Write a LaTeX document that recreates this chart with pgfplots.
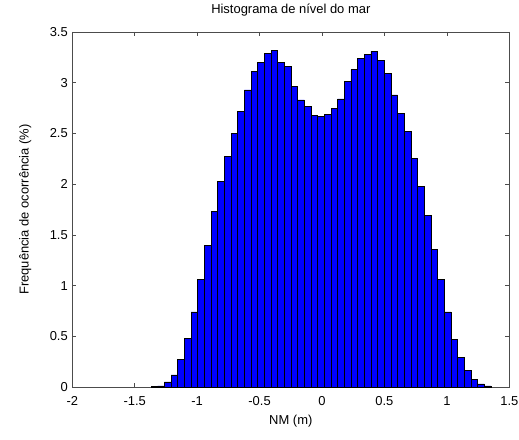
\documentclass[border=0pt]{standalone}
\usepackage{fontspec}
\setmainfont{Liberation Sans}
\usepackage{pgfplots}
\usepackage{pgfplotstable}
\pgfplotsset{compat=1.18}
\pgfplotstableread{
x y
-1.3694 0.005
-1.3160 0.01
-1.2626 0.05
-1.2092 0.12
-1.1558 0.27
-1.1024 0.48
-1.0491 0.74
-0.9957 1.06
-0.9423 1.40
-0.8889 1.73
-0.8355 2.03
-0.7821 2.27
-0.7288 2.50
-0.6754 2.72
-0.6220 2.93
-0.5686 3.11
-0.5152 3.20
-0.4618 3.29
-0.4085 3.32
-0.3551 3.20
-0.3017 3.16
-0.2483 2.96
-0.1949 2.83
-0.1415 2.77
-0.0882 2.68
-0.0348 2.67
0.0186 2.69
0.0720 2.75
0.1254 2.84
0.1788 3.01
0.2321 3.13
0.2855 3.24
0.3389 3.28
0.3923 3.31
0.4457 3.22
0.4991 3.09
0.5524 2.88
0.6058 2.70
0.6592 2.52
0.7126 2.25
0.7660 1.98
0.8194 1.69
0.8727 1.36
0.9261 1.06
0.9795 0.74
1.0329 0.47
1.0863 0.29
1.1397 0.16
1.1930 0.075
1.2464 0.03
1.2998 0.01
1.3532 0
}\histdata
\begin{document}
\fontsize{13}{15}\selectfont
\begin{tikzpicture}
\begin{axis}[
  scale only axis,
  width=437bp, height=355bp,
  xmin=-2, xmax=1.5, ymin=0, ymax=3.5,
  xtick={-2,-1.5,-1,-0.5,0,0.5,1,1.5},
  ytick={0,0.5,1,1.5,2,2.5,3,3.5},
  xticklabels={-2,-1.5,-1,-0.5,0,0.5,1,1.5},
  yticklabels={0,0.5,1,1.5,2,2.5,3,3.5},
  tick align=inside,
  major tick length=4bp,
  axis line style={black!70, line width=0.6bp},
  tick style={black!70, line width=0.6bp},
  /pgf/number format/assume math mode=true,
  ticklabel style={font=\fontsize{13}{15}\selectfont},
  xticklabel style={yshift=-5bp},
  label style={font=\fontsize{13}{15}\selectfont},
  title={Histograma de nível do mar},
  title style={at={(rel axis cs:0.5,1)}, anchor=base, yshift=12.3bp, font=\fontsize{13}{15}\selectfont},
  xlabel={NM (m)},
  xlabel style={at={(rel axis cs:0.5,0)}, anchor=center, yshift=-34bp},
  ylabel={Frequência de ocorrência (\%)},
  ylabel style={at={(rel axis cs:0,0.5)}, anchor=center, yshift=47bp},
]
\addplot[ybar interval, fill={rgb,255:red,0;green,0;blue,255}, draw=black, line width=0.6bp] table[x=x,y=y] {\histdata};
\end{axis}
\pgfresetboundingbox
\path ([shift={(-72.3bp,-53bp)}]current axis.south west) rectangle ([shift={(9.7bp,32bp)}]current axis.north east);
\end{tikzpicture}
\end{document}
